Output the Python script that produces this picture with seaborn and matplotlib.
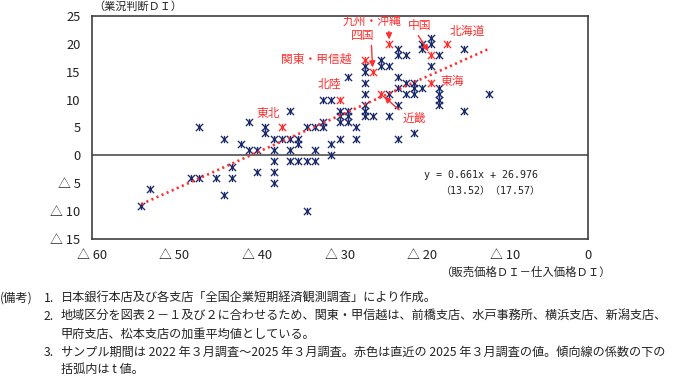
import pandas as pd
import matplotlib.pyplot as plt
from matplotlib.path import Path
import seaborn as sns

# earlier surveys (2022/3 - 2024/12), blue
past_x = [-54, -53, -48, -47, -45, -44, -43, -43, -44, -47, -42, -41, -40, -40,
          -38, -38, -38, -38, -38, -36, -35, -34, -33, -36, -35, -33, -31, -31,
          -30, -28, -23, -21, -34, -41, -39, -39, -37, -36, -35, -36, -34, -33,
          -32, -32, -32, -31, -30, -29, -30, -29, -30, -29, -28, -27, -27, -27,
          -27, -26, -24, -29, -27, -27, -27, -25, -25, -24, -24, -23, -23, -22,
          -21, -21, -20, -22, -21, -23, -23, -23, -22, -19, -19, -20, -19, -20,
          -18, -15, -18, -18, -18, -18, -15, -12]
past_y = [-9, -6, -4, -4, -4, -7, -4, -2, 3, 5, 2, 1, 1, -3,
          3, 1, -1, -3, -5, -1, -1, -1, -1, 1, 2, 1, 2, 0,
          3, 3, 3, 4, -10, 6, 5, 4, 3, 3, 3, 8, 5, 5,
          5, 6, 10, 10, 8, 8, 7, 7, 6, 6, 5, 11, 9, 8,
          7, 7, 7, 14, 13, 16, 15, 17, 16, 16, 11, 9, 12, 11,
          11, 12, 12, 13, 13, 14, 19, 18, 18, 16, 21, 20, 20, 19,
          18, 19, 12, 11, 10, 9, 8, 11]

# latest survey (2025/3), red
regions = ['北海道', '東北', '北陸', '関東・甲信越', '東海', '近畿', '中国', '四国', '九州・沖縄']
latest_x = [-17, -37, -30, -27, -19, -25, -19, -26, -24]
latest_y = [20, 5, 10, 17, 13, 11, 18, 15, 20]

# trend line and t values
slope, intercept = 0.661, 26.976
t_slope, t_intercept = 13.52, 17.57

x_ticks = [-60, -50, -40, -30, -20, -10, 0]
y_ticks = [-15, -10, -5, 0, 5, 10, 15, 20, 25]

notes = [
    ('(備考)', '1.', '日本銀行本店及び各支店「全国企業短期経済観測調査」により作成。'),
    ('', '2.', '地域区分を図表２－１及び２に合わせるため、関東・甲信越は、前橋支店、水戸事務所、横浜支店、新潟支店、'),
    ('', '', '甲府支店、松本支店の加重平均値としている。'),
    ('', '3.', 'サンプル期間は 2022 年３月調査～2025 年３月調査。赤色は直近の 2025 年３月調査の値。傾向線の係数の下の'),
    ('', '', '括弧内は t 値。'),
]

sns.set_style('white')
plt.rcParams['font.family'] = ['Noto Sans CJK JP', 'DejaVu Sans']

BLUE = '#1c2a6e'
RED = '#ff3030'
INK = '#222222'
JP = ['Noto Sans CJK JP', 'DejaVu Sans']

# asterisk-like marker: X with a vertical bar
star = Path([(-1, -1), (1, 1), (-1, 1), (1, -1), (0, -1), (0, 1)],
            [Path.MOVETO, Path.LINETO, Path.MOVETO, Path.LINETO, Path.MOVETO, Path.LINETO])

fig = plt.figure(figsize=(6.77, 3.80), dpi=100)
ax = fig.add_axes([0.1355, 0.3703, 0.7327, 0.5884])

past = pd.DataFrame({'x': past_x, 'y': past_y})
latest = pd.DataFrame({'x': latest_x, 'y': latest_y, 'region': regions})

sns.scatterplot(data=past, x='x', y='y', marker=star, s=27, color=BLUE,
                edgecolor=BLUE, linewidth=0.95, ax=ax, zorder=3)
sns.scatterplot(data=latest, x='x', y='y', marker=star, s=27, color=RED,
                edgecolor=RED, linewidth=0.95, ax=ax, zorder=4)

# trend line over the sample range
all_x = pd.Series(past_x + latest_x)
xs = pd.Series([all_x.min(), all_x.max()])
trend = pd.DataFrame({'x': xs, 'y': slope * xs + intercept})
sns.lineplot(data=trend, x='x', y='y', color=RED, linewidth=1.9,
             linestyle=(0, (0.8, 1.3)), ax=ax, zorder=5)

ax.axhline(0, color='#404040', linewidth=1.1, zorder=1)

ax.set_xlim(-60, 0)
ax.set_ylim(-15, 25)
ax.set_xticks(x_ticks)
ax.set_yticks(y_ticks)


def tri(v):
    if v < 0:
        return f'△ {abs(v)}'
    return str(v)


ax.set_xticklabels([tri(v) for v in x_ticks], family=JP, fontsize=9.3)
ax.set_yticklabels([tri(v) for v in y_ticks], family=JP, fontsize=9.3)
ax.tick_params(axis='both', length=0, colors=INK)
ax.tick_params(axis='x', pad=7)
ax.tick_params(axis='y', pad=8)
ax.set_xlabel('')
ax.set_ylabel('')
for sp in ax.spines.values():
    sp.set_color('#404040')
    sp.set_linewidth(1.2)

# region labels: (dx, dy) in pixels, optional arrow start on the text box
label_pos = {
    '北海道': (20, 12, None),
    '東北': (-14, 14, None),
    '北陸': (-10, 15, None),
    '関東・甲信越': (-48, 1, None),
    '東海': (22, 1, None),
    '近畿': (33, -24, (0.0, 0.9)),
    '中国': (-11, 29, (0.35, 0.0)),
    '四国': (-10, 36, (0.86, 0.0)),
    '九州・沖縄': (-17, 22, (0.78, 0.0)),
}
for r, px, py in zip(regions, latest_x, latest_y):
    dx, dy, rel = label_pos[r]
    kw = {}
    if rel is not None:
        kw['arrowprops'] = dict(arrowstyle='-|>', color=RED, lw=1.0,
                                mutation_scale=9, shrinkA=0, shrinkB=3,
                                relpos=rel)
    ax.annotate(r, (px, py), xytext=(dx, dy), textcoords='offset pixels',
                ha='center', va='center', color=RED, fontsize=8.5,
                family=JP, zorder=6, **kw)

# regression equation
ax.text(538 / 677, 1 - 175.5 / 380, f'y = {slope:.3f}x + {intercept:.3f}',
        transform=fig.transFigure, ha='right', va='center',
        family=['DejaVu Sans Mono'], fontsize=7.2, color=INK)
ax.text(540 / 677, 1 - 191 / 380, f'（{t_slope:.2f}）（{t_intercept:.2f}）',
        transform=fig.transFigure, ha='right', va='center',
        family=['DejaVu Sans Mono', 'Noto Sans CJK JP'], fontsize=7.2, color=INK)

fig.text(93 / 677, 1 - 7 / 380, '（業況判断ＤＩ）', ha='left', va='center',
         family=JP, fontsize=8, color=INK)
fig.text(611 / 677, 1 - 272 / 380, '（販売価格ＤＩ－仕入価格ＤＩ）', ha='right', va='center',
         family=JP, fontsize=8.2, color=INK)

line_y = [298, 316, 334, 352, 369]
for (head, num, body), yy in zip(notes, line_y):
    fy = 1 - yy / 380
    if head:
        fig.text(0 / 677, fy, head, ha='left', va='center', family=JP, fontsize=8.8, color=INK)
    if num:
        fig.text(44 / 677, fy, num, ha='left', va='center', family=JP, fontsize=8.8, color=INK)
    fig.text(61 / 677, fy, body, ha='left', va='center', family=JP, fontsize=8.75, color=INK)

fig.savefig('out.png', dpi=100)
